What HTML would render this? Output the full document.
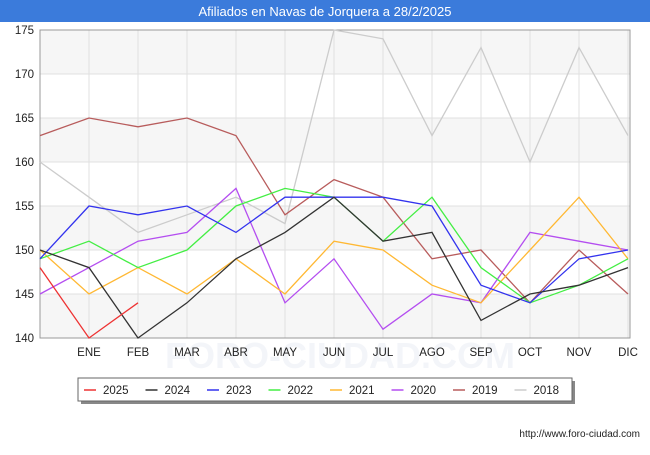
<!DOCTYPE html>
<html><head><meta charset="utf-8"><style>
body{margin:0;background:#fff;font-family:"Liberation Sans",sans-serif}
#c{position:relative;width:650px;height:450px}
</style></head><body>
<div id="c">
<svg id="s" width="650" height="450" xmlns="http://www.w3.org/2000/svg"></svg>
</div>
<script>
const months=["","ENE","FEB","MAR","ABR","MAY","JUN","JUL","AGO","SEP","OCT","NOV","DIC"];
const yTicks=[140,145,150,155,160,165,170,175];
const seriesNames=["2025","2024","2023","2022","2021","2020","2019","2018"];
const seriesColors=["#ee3333","#333333","#3333ee","#44ee44","#ffb833","#b44ef0","#b85c5c","#cccccc"];
const s2025=[148,140,144];
const s2024=[150,148,140,144,149,152,156,151,152,142,145,146,148];
const s2023=[149,155,154,155,152,156,156,156,155,146,144,149,150];
const s2022=[149,151,148,150,155,157,156,151,156,148,144,146,149];
const s2021=[150,145,148,145,149,145,151,150,146,144,150,156,149];
const s2020=[145,148,151,152,157,144,149,141,145,144,152,151,150];
const s2019=[163,165,164,165,163,154,158,156,149,150,144,150,145];
const s2018=[160,156,152,154,156,153,175,174,163,173,160,173,163];
const allSeries=[s2025,s2024,s2023,s2022,s2021,s2020,s2019,s2018];
const L=40,R=628,T=30,B=338,ymin=140,ymax=175;
const xs=i=>L+(R-L)*i/12, ys=v=>B-(v-ymin)/(ymax-ymin)*(B-T);
const svg=document.getElementById('s');const NS="http://www.w3.org/2000/svg";
function mk(t,a,p){const e=document.createElementNS(NS,t);for(const k in a)e.setAttribute(k,a[k]);(p||svg).appendChild(e);return e;}
let e=mk('rect',{x:0,y:0,width:650,height:22,fill:'#3b7bdb'});


e=mk('text',{x:325,y:16,'text-anchor':'middle','font-size':13,fill:'#fff'});e.textContent='Afiliados en Navas de Jorquera a 28/2/2025';


for(let i=0;i<yTicks.length-1;i++){ if(i%2===0){
 e=mk('rect',{x:L,y:ys(yTicks[i+1]),width:R-L+2,height:ys(yTicks[i])-ys(yTicks[i+1]),fill:'#f6f6f6'});
 
 }}
e=mk('text',{x:340,y:368,'text-anchor':'middle','font-size':36,fill:'#f3f5f9','font-weight':'bold'});e.textContent='FORO-CIUDAD.COM';


yTicks.forEach(v=>{e=mk('line',{x1:L,x2:R+2,y1:ys(v),y2:ys(v),stroke:'#e0e0e0'});
 
 
 e=mk('text',{x:L-6,y:ys(v)+4,'text-anchor':'end','font-size':11.5,fill:'#222'});e.textContent=v;
 
 });
months.forEach((m,i)=>{if(i>0){e=mk('line',{x1:xs(i),x2:xs(i),y1:T,y2:B,stroke:'#e0e0e0'});
 
 
 e=mk('text',{x:xs(i),y:B+18,'text-anchor':'middle','font-size':11.5,fill:'#222'});e.textContent=m;
 
 }});
e=mk('rect',{x:L,y:T,width:R-L+2,height:B-T,fill:'none',stroke:'#999'});


for(let k=allSeries.length-1;k>=0;k--){
 const d=allSeries[k].map((v,i)=>xs(i)+','+ys(v)).join(' ');
 e=mk('polyline',{points:d,fill:'none',stroke:seriesColors[k],'stroke-width':1.3});
 
 
}
e=mk('rect',{x:81,y:381,width:494,height:23,fill:'#888'});


e=mk('rect',{x:78,y:378,width:494,height:23,fill:'#fff',stroke:'#666'});


seriesNames.forEach((n,k)=>{const x0=84+k*61.5;
 e=mk('line',{x1:x0,x2:x0+12,y1:390,y2:390,stroke:seriesColors[k],'stroke-width':1.5});
 
 
 e=mk('text',{x:x0+19,y:394,'font-size':11.5,fill:'#222'});e.textContent=n;
 
 });
e=mk('text',{x:640,y:437,'text-anchor':'end','font-size':10,fill:'#222'});e.textContent='http://www.foro-ciudad.com';


</script>
</body></html>
